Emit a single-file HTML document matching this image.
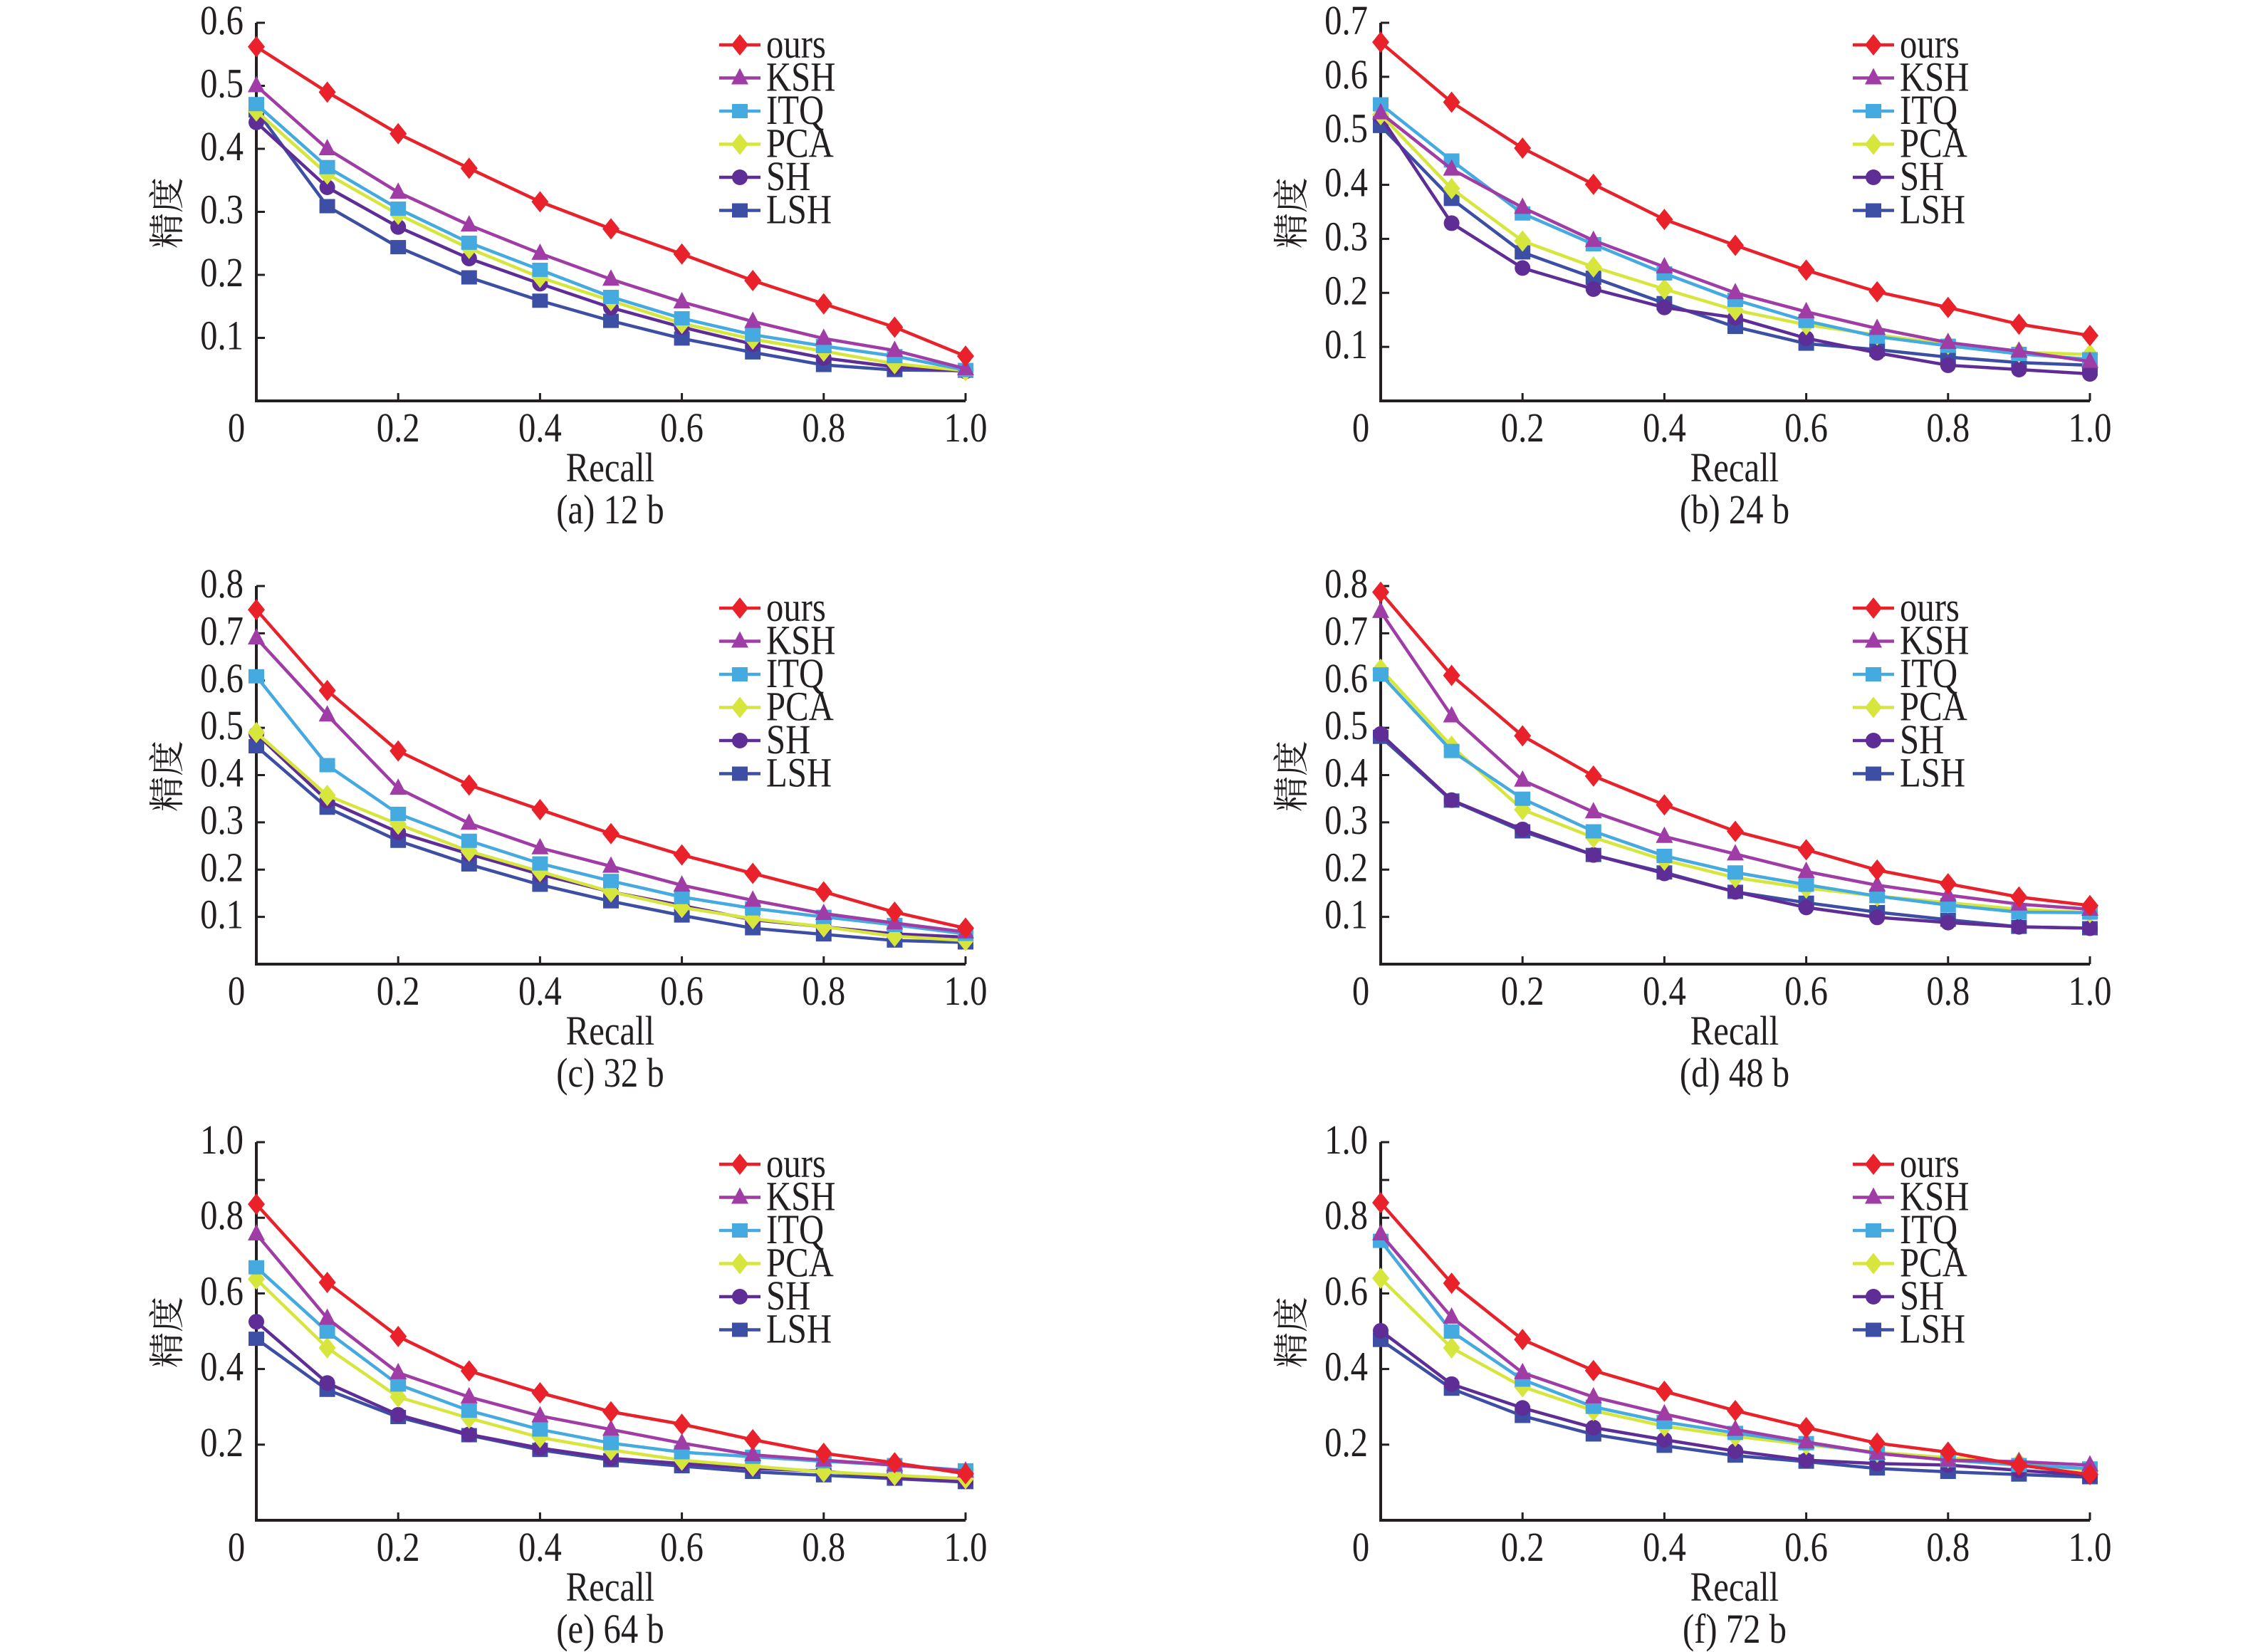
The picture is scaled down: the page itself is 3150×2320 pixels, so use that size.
<!DOCTYPE html>
<html><head><meta charset="utf-8">
<style>
html,body{margin:0;padding:0;background:#fff;}
svg{display:block;}
text{font-family:"Liberation Serif","Noto Serif CJK SC",serif;fill:#231f20;}
</style></head>
<body>
<svg id="fig" width="3150" height="2320" viewBox="0 0 3150 2320" xmlns="http://www.w3.org/2000/svg"></svg>
<script>
const recall = [0,0.1,0.2,0.3,0.4,0.5,0.6,0.7,0.8,0.9,1.0];
const methods = ["ours","KSH","ITQ","PCA","SH","LSH"];
const captions = ["(a) 12 b","(b) 24 b","(c) 32 b","(d) 48 b","(e) 64 b","(f) 72 b"];
const yMaxes = [0.6,0.7,0.8,0.8,1.0,1.0];
const yTicksA = ["0.1","0.2","0.3","0.4","0.5","0.6"];
const yTicksB = ["0.1","0.2","0.3","0.4","0.5","0.6","0.7"];
const yTicksC = ["0.1","0.2","0.3","0.4","0.5","0.6","0.7","0.8"];
const yTicksE = ["0.2","0.4","0.6","0.8","0.9","1.0"];
const yTickLists = [yTicksA,yTicksB,yTicksC,yTicksC,yTicksE,yTicksE];
const xTicks = ["0.2","0.4","0.6","0.8","1.0"];

const a_ours=[0.562,0.49,0.424,0.369,0.316,0.273,0.233,0.191,0.154,0.117,0.071];
const a_ksh=[0.50,0.40,0.331,0.279,0.234,0.193,0.157,0.126,0.099,0.080,0.051];
const a_itq=[0.471,0.371,0.305,0.251,0.208,0.165,0.131,0.105,0.087,0.071,0.049];
const a_pca=[0.46,0.36,0.296,0.242,0.196,0.159,0.123,0.098,0.079,0.059,0.048];
const a_sh=[0.442,0.339,0.276,0.226,0.186,0.148,0.117,0.09,0.068,0.054,0.047];
const a_lsh=[0.461,0.309,0.244,0.196,0.159,0.127,0.099,0.077,0.057,0.049,0.048];

const b_ours=[0.664,0.553,0.468,0.401,0.336,0.288,0.242,0.202,0.173,0.142,0.121];
const b_ksh=[0.533,0.429,0.358,0.297,0.248,0.200,0.165,0.134,0.108,0.092,0.073];
const b_itq=[0.549,0.445,0.347,0.290,0.236,0.187,0.148,0.119,0.102,0.087,0.077];
const b_pca=[0.53,0.393,0.296,0.248,0.207,0.168,0.141,0.122,0.105,0.09,0.086];
const b_sh=[0.526,0.329,0.246,0.207,0.173,0.154,0.116,0.089,0.066,0.058,0.050];
const b_lsh=[0.509,0.374,0.275,0.228,0.181,0.137,0.106,0.095,0.081,0.071,0.066];

const c_ours=[0.75,0.579,0.451,0.379,0.327,0.276,0.231,0.192,0.153,0.110,0.076];
const c_ksh=[0.69,0.527,0.372,0.298,0.246,0.207,0.167,0.135,0.107,0.087,0.068];
const c_itq=[0.609,0.421,0.318,0.261,0.213,0.176,0.142,0.118,0.10,0.083,0.064];
const c_pca=[0.49,0.357,0.296,0.239,0.196,0.153,0.12,0.096,0.079,0.059,0.05];
const c_sh=[0.487,0.346,0.279,0.233,0.19,0.153,0.124,0.094,0.079,0.064,0.057];
const c_lsh=[0.461,0.331,0.261,0.211,0.168,0.133,0.103,0.076,0.063,0.05,0.046];

const d_ours=[0.787,0.611,0.483,0.398,0.337,0.281,0.242,0.199,0.17,0.142,0.124];
const d_ksh=[0.746,0.525,0.389,0.322,0.27,0.233,0.196,0.167,0.146,0.127,0.116];
const d_itq=[0.613,0.451,0.35,0.281,0.229,0.194,0.168,0.144,0.125,0.11,0.109];
const d_pca=[0.624,0.461,0.327,0.268,0.22,0.183,0.161,0.144,0.13,0.116,0.109];
const d_sh=[0.487,0.347,0.285,0.231,0.192,0.153,0.12,0.099,0.088,0.079,0.076];
const d_lsh=[0.481,0.346,0.281,0.231,0.194,0.153,0.13,0.11,0.094,0.079,0.076];

const e_ours=[0.836,0.629,0.486,0.395,0.337,0.287,0.254,0.213,0.177,0.152,0.123];
const e_ksh=[0.757,0.534,0.39,0.326,0.276,0.24,0.204,0.173,0.159,0.146,0.13];
const e_itq=[0.669,0.499,0.359,0.29,0.24,0.204,0.18,0.168,0.156,0.146,0.132];
const e_pca=[0.638,0.456,0.326,0.27,0.219,0.186,0.159,0.143,0.128,0.119,0.11];
const e_sh=[0.525,0.363,0.279,0.227,0.191,0.164,0.15,0.137,0.13,0.112,0.103];
const e_lsh=[0.48,0.345,0.273,0.225,0.186,0.159,0.143,0.128,0.119,0.11,0.101];

const f_ours=[0.84,0.627,0.478,0.396,0.341,0.29,0.245,0.204,0.18,0.146,0.121];
const f_ksh=[0.757,0.537,0.39,0.326,0.281,0.24,0.207,0.177,0.159,0.155,0.146];
const f_itq=[0.739,0.499,0.372,0.30,0.26,0.231,0.204,0.177,0.159,0.146,0.137];
const f_pca=[0.64,0.456,0.353,0.29,0.249,0.222,0.2,0.18,0.165,0.153,0.132];
const f_sh=[0.501,0.36,0.297,0.245,0.213,0.183,0.159,0.15,0.146,0.132,0.119];
const f_lsh=[0.477,0.348,0.276,0.227,0.197,0.171,0.155,0.137,0.128,0.121,0.114];

const panelSeries=[[a_ours,a_ksh,a_itq,a_pca,a_sh,a_lsh],[b_ours,b_ksh,b_itq,b_pca,b_sh,b_lsh],
[c_ours,c_ksh,c_itq,c_pca,c_sh,c_lsh],[d_ours,d_ksh,d_itq,d_pca,d_sh,d_lsh],
[e_ours,e_ksh,e_itq,e_pca,e_sh,e_lsh],[f_ours,f_ksh,f_itq,f_pca,f_sh,f_lsh]];

const colors=["#e8212a","#a03ca6","#45aae0","#d6e63c","#5f2d96","#3d4ea5"];
const shapes=["diamond","triangle","square","diamond","circle","square"];
const NS="http://www.w3.org/2000/svg";
const svg=document.getElementById("fig");
function el(tag,attrs,parent){const e=document.createElementNS(NS,tag);for(const k in attrs)e.setAttribute(k,attrs[k]);(parent||svg).appendChild(e);return e;}
function ctext(parent,x,y,str,anchor,size){
  const t=el("text",{x:0,y:0,"text-anchor":anchor,"font-size":size,transform:`translate(${x},${y}) scale(0.84,1)`},parent);
  t.textContent=str;return t;
}

function marker(g,shape,cx,cy,col){
  let m;
  if(shape==="diamond") m=el("polygon",{points:`${cx},${cy-15} ${cx+12},${cy} ${cx},${cy+15} ${cx-12},${cy}`,fill:col},g);
  else if(shape==="triangle") m=el("polygon",{points:`${cx},${cy-14} ${cx+12},${cy+9} ${cx-12},${cy+9}`,fill:col},g);
  else if(shape==="square") m=el("rect",{x:cx-11,y:cy-10,width:22,height:20,fill:col},g);
  else m=el("ellipse",{cx:cx,cy:cy,rx:11,ry:11,fill:col},g);
  return m;
}

const colX=[360,1939], rowTop=[32,823,1604], plotW=996, plotH=531;
const FS=58;
for(let p=0;p<6;p++){
  const X0=colX[p%2], T=rowTop[Math.floor(p/2)], B=T+plotH;
  const ymax=yMaxes[p];
  const sx=v=>X0+v*plotW;
  const sy=v=>B-(v/ymax)*plotH;
  const g=el("g",{});
  
  
  const ax=el("path",{d:`M${X0},${T} L${X0},${B} L${X0+plotW},${B}`,stroke:"#231f20","stroke-width":4,fill:"none"},g);
  
  
  yTickLists[p].forEach(t=>{
    const v=parseFloat(t), y=sy(v);
    el("line",{x1:X0,x2:X0+12,y1:y,y2:y,stroke:"#231f20","stroke-width":3},g);
    if(!(ymax===1.0&&t==="0.9")){
      const tx=ctext(g,X0-18,y+16,t,"end",FS);
      
      
    }
  });
  xTicks.forEach(t=>{
    const x=sx(parseFloat(t));
    el("line",{x1:x,x2:x,y1:B,y2:B-11,stroke:"#231f20","stroke-width":3},g);
    const tx=ctext(g,x,B+57,t,"middle",FS);
    
    
  });
  const z=ctext(g,X0-28,B+57,"0","middle",FS);
  
  
  const xl=ctext(g,X0+497,B+113,"Recall","middle",FS);
  
  
  const cap=ctext(g,X0+497,B+172,captions[p],"middle",FS);
  
  
  const yl=el("text",{x:0,y:0,"text-anchor":"middle","font-size":50,transform:`translate(${X0-108},${T+267}) rotate(-90)`},g);
  yl.textContent="精度";
  
  
  for(let s=5;s>=0;s--){
    const vals=panelSeries[p][s];
    const sg=el("g",{},g);
    
    
    const pts=vals.map((v,i)=>`${sx(recall[i])},${sy(v)}`).join(" ");
    el("polyline",{points:pts,fill:"none",stroke:colors[s],"stroke-width":4.5,"stroke-linejoin":"round"},sg);
    vals.forEach((v,i)=>{
      const m=marker(sg,shapes[s],sx(recall[i]),sy(v),colors[s]);
      
      
    });
  }
  const lg=el("g",{},g);
  
  
  const lx=X0+(p%2===0?650:663);
  methods.forEach((m,i)=>{
    const y=T+31+i*46.5;
    const eg=el("g",{},lg);
    
    
    el("line",{x1:lx,x2:lx+58,y1:y,y2:y,stroke:colors[i],"stroke-width":4.5},eg);
    marker(eg,shapes[i],lx+29,y,colors[i]);
    ctext(eg,lx+66,y+18,m,"start",FS);
  });
}
</script>
</body></html>
